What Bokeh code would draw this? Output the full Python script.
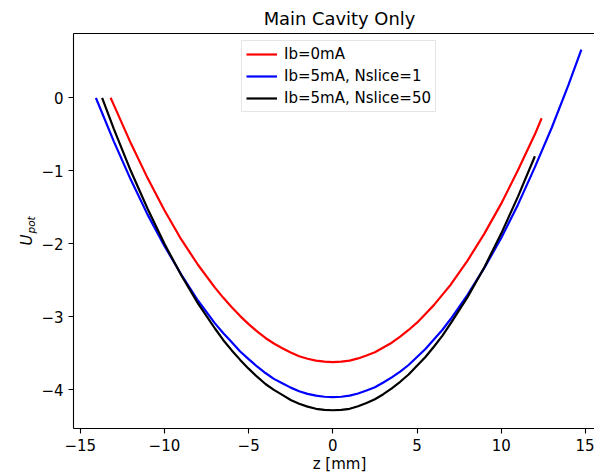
import math
from bokeh.plotting import figure
from bokeh.models import Range1d, Legend, LegendItem, FixedTicker, Label, LinearAxis
from bokeh.embed import file_html
from bokeh.resources import INLINE

# ---- data ----
z_red = [-13.2, -13, -12, -11, -10, -9, -8, -7, -6.5, -6, -5.5, -5, -4.5, -4, -3.5, -3, -2.5, -2, -1.5, -1, -0.5, 0,
         0.5, 1, 1.5, 2, 2.5, 3, 3.5, 4, 4.5, 5, 5.5, 6, 6.5, 7, 8, 9, 10, 11, 12, 12.4]
u_red = [0.00, -0.10, -0.62, -1.10, -1.54, -1.94, -2.29, -2.60, -2.74, -2.87, -2.99, -3.10, -3.20, -3.29, -3.365, -3.43, -3.49, -3.54, -3.575, -3.60, -3.615, -3.62,
         -3.615, -3.60, -3.57, -3.53, -3.485, -3.42, -3.355, -3.27, -3.18, -3.08, -2.96, -2.84, -2.70, -2.56, -2.23, -1.86, -1.45, -0.99, -0.50, -0.28]

z_blue = [-14.07, -14, -13, -12, -11, -10, -9, -8, -7, -6.5, -6, -5.5, -5, -4.5, -4, -3.5, -3, -2.5, -2, -1.5, -1, -0.5, 0,
          0.5, 1, 1.5, 2, 2.5, 3, 3.5, 4, 4.5, 5, 5.5, 6, 6.5, 7, 8, 9, 10, 11, 12, 13, 14, 14.76]
u_blue = [0.00, -0.04, -0.60, -1.12, -1.60, -2.03, -2.42, -2.78, -3.09, -3.225, -3.35, -3.475, -3.58, -3.68, -3.77, -3.85, -3.91, -3.97, -4.02, -4.055, -4.08, -4.095, -4.10,
          -4.095, -4.08, -4.05, -4.01, -3.965, -3.90, -3.83, -3.75, -3.66, -3.55, -3.44, -3.31, -3.18, -3.03, -2.70, -2.33, -1.92, -1.46, -0.95, -0.41, 0.18, 0.66]

z_black = [-13.7, -13, -12, -11, -10, -9, -8, -7, -6.5, -6, -5.5, -5, -4.5, -4, -3.5, -3, -2.5, -2, -1.5, -1, -0.5, 0,
           0.5, 1, 1.5, 2, 2.5, 3, 3.5, 4, 4.5, 5, 5.5, 6, 6.5, 7, 8, 9, 10, 11, 12]
u_black = [0.00, -0.43, -1.00, -1.52, -2.00, -2.43, -2.82, -3.16, -3.32, -3.46, -3.59, -3.71, -3.82, -3.92, -4.00, -4.07, -4.14, -4.19, -4.23, -4.26, -4.275, -4.28,
           -4.275, -4.26, -4.225, -4.18, -4.13, -4.06, -3.98, -3.89, -3.79, -3.67, -3.55, -3.41, -3.26, -3.09, -2.73, -2.32, -1.86, -1.35, -0.80]

series_names = ["Ib=0mA", "Ib=5mA, Nslice=1", "Ib=5mA, Nslice=50"]
series_colors = ["#ff0000", "#0000ff", "#000000"]

x_ticks = [-15, -10, -5, 0, 5, 10, 15]
x_tick_labels = ["\u221215", "\u221210", "\u22125", "0", "5", "10", "15"]
y_ticks = [-4, -3, -2, -1, 0]
y_tick_labels = ["\u22124", "\u22123", "\u22122", "\u22121", "0"]

title_text = "Main Cavity Only"
x_label = "z [mm]"
y_label_main = "U"
y_label_sub = "pot"

FONT = "DejaVu Sans"
# axes box (data limits of the matplotlib-style axes)
AX_X0, AX_X1 = -15.4, 15.54
AX_Y0, AX_Y1 = -4.53, 0.877
# full canvas view (room for the outer texts)
VIEW_X0, VIEW_X1 = -19.735, 15.54
VIEW_Y0, VIEW_Y1 = -5.160, 1.333

p = figure(width=594, height=474, output_backend="svg", toolbar_location=None,
           x_range=Range1d(VIEW_X0, VIEW_X1), y_range=Range1d(VIEW_Y0, VIEW_Y1),
           min_border_left=0, min_border_right=0, min_border_top=0, min_border_bottom=0,
           background_fill_color="white", border_fill_color="white")
p.outline_line_color = None
p.xgrid.visible = False
p.ygrid.visible = False


def style_axis(ax):
    ax.axis_line_color = "#000000"
    ax.axis_line_width = 1.1
    ax.major_tick_line_color = "#000000"
    ax.major_tick_line_width = 1.1
    ax.major_tick_out = 5
    ax.major_tick_in = 0
    ax.minor_tick_line_color = None
    ax.major_label_text_font = FONT
    ax.major_label_text_font_size = "15px"
    ax.major_label_text_color = "#000000"
    ax.major_label_standoff = 5


xa = p.xaxis[0]
ya = p.yaxis[0]
style_axis(xa)
style_axis(ya)

xa.ticker = FixedTicker(ticks=x_ticks)
xa.major_label_overrides = {float(t): l for t, l in zip(x_ticks, x_tick_labels)}
xa.fixed_location = AX_Y0
xa.bounds = (AX_X0, AX_X1)

ya.ticker = FixedTicker(ticks=y_ticks)
ya.major_label_overrides = {float(t): l for t, l in zip(y_ticks, y_tick_labels)}
ya.fixed_location = AX_X0
ya.bounds = (AX_Y0, AX_Y1)

# top spine
top_axis = LinearAxis(ticker=FixedTicker(ticks=[]), fixed_location=AX_Y1,
                      bounds=(AX_X0, AX_X1), axis_line_color="#000000", axis_line_width=1.1,
                      major_tick_line_color=None, minor_tick_line_color=None)
p.add_layout(top_axis, "above")

# title
p.add_layout(Label(x=339, y=456.5, x_units="screen", y_units="screen", text=title_text,
                   text_font=FONT, text_font_size="17.9px", text_font_style="normal",
                   text_align="center", text_baseline="alphabetic", text_color="#000000"))

# x label
p.add_layout(Label(x=339, y=11, x_units="screen", y_units="screen", text=x_label,
                   text_font=FONT, text_font_size="15px", text_font_style="normal",
                   text_align="center", text_baseline="alphabetic", text_color="#000000"))

# y label  U_pot
p.add_layout(Label(x=26, y=229, x_units="screen", y_units="screen", text=y_label_main,
                   angle=math.pi / 2, text_font=FONT,
                   text_font_size="15px", text_font_style="italic",
                   text_align="left", text_baseline="alphabetic", text_color="#000000"))
p.add_layout(Label(x=30.5, y=241, x_units="screen", y_units="screen", text=y_label_sub,
                   angle=math.pi / 2, text_font=FONT,
                   text_font_size="10.5px", text_font_style="italic",
                   text_align="left", text_baseline="alphabetic", text_color="#000000"))

# lines
renderers = []
for zs, us, c in ((z_red, u_red, series_colors[0]),
                  (z_blue, u_blue, series_colors[1]),
                  (z_black, u_black, series_colors[2])):
    r = p.line(zs, us, line_color=c, line_width=2.2)
    renderers.append(r)

legend = Legend(items=[LegendItem(label=n, renderers=[r]) for n, r in zip(series_names, renderers)],
                location=(241, 362))
legend.label_text_font = FONT
legend.label_text_font_size = "15px"
legend.label_text_color = "#000000"
legend.glyph_width = 31
legend.glyph_height = 16
legend.label_height = 16
legend.label_standoff = 7
legend.spacing = 4
legend.padding = 4
legend.margin = 0
legend.border_line_color = "#cccccc"
legend.border_line_width = 1
legend.background_fill_color = "white"
legend.background_fill_alpha = 0.8
p.add_layout(legend)

open("out.html", "w").write(file_html(p, INLINE))
